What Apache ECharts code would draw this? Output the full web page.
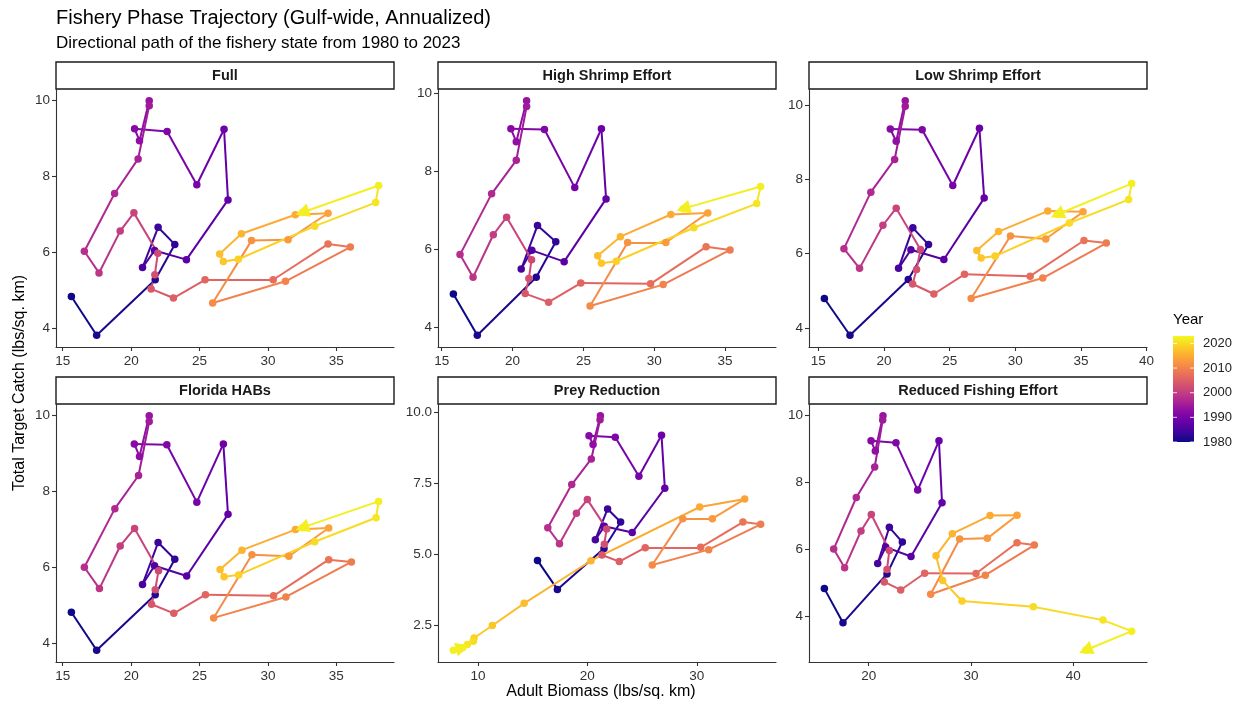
<!DOCTYPE html>
<html>
<head>
<meta charset="utf-8">
<script src="https://cdn.jsdelivr.net/npm/echarts@6/dist/echarts.min.js"></script>
<style>
  html, body { margin: 0; padding: 0; background: #fff; }
  #chart { width: 1242px; height: 707px; }
</style>
</head>
<body>
<div id="chart"></div>
<script>
// ---- data ----
const firstYear = 1980;
const lastYear = 2023;
const panelNames = ['Full', 'High Shrimp Effort', 'Low Shrimp Effort', 'Florida HABs', 'Prey Reduction', 'Reduced Fishing Effort'];

const fullX = [15.63,17.48,21.76,23.19,21.97,20.83,21.71,24.04,27.08,26.79,24.80,22.63,20.25,20.61,21.32,21.32,20.51,18.79,16.58,17.65,19.20,20.20,21.95,21.73,21.46,23.09,25.40,30.38,34.39,36.02,31.28,25.96,28.80,31.47,34.39,32.00,28.06,26.47,26.74,27.83,33.42,37.87,38.09,32.50];
const fullY = [4.83,3.81,5.27,6.20,6.65,5.59,6.04,5.80,7.37,9.23,7.77,9.17,9.24,8.93,9.98,9.85,8.45,7.54,6.02,5.45,6.55,7.03,5.97,5.40,5.03,4.79,5.27,5.27,6.21,6.13,5.23,4.66,6.30,6.32,7.02,6.98,6.48,5.95,5.75,5.81,6.68,7.30,7.75,7.04];

const highX = [15.82,17.51,21.67,23.05,21.76,20.61,21.36,23.64,26.60,26.27,24.39,22.25,19.88,20.26,20.99,20.99,20.26,18.52,16.29,17.21,18.64,19.58,21.34,21.15,20.89,22.54,24.81,29.74,33.66,35.35,30.63,25.47,28.12,30.82,33.78,31.17,27.61,26.01,26.27,27.32,32.79,37.23,37.51,32.05];
const highY = [4.86,3.80,5.29,6.20,6.62,5.50,5.98,5.69,7.30,9.10,7.59,9.08,9.10,8.77,9.82,9.67,8.29,7.43,5.87,5.29,6.38,6.83,5.74,5.26,4.87,4.65,5.14,5.12,6.07,5.99,5.10,4.55,6.18,6.18,6.94,6.90,6.33,5.84,5.65,5.70,6.56,7.18,7.62,7.05];

const lowX = [15.46,17.41,21.85,23.39,22.20,21.11,22.05,24.56,27.63,27.27,25.24,22.91,20.48,20.93,21.62,21.62,20.81,19.00,16.95,18.14,19.92,20.93,22.78,22.48,22.18,23.80,26.13,31.13,35.23,36.93,32.09,26.64,29.63,32.32,35.16,32.47,28.72,27.07,27.40,28.46,34.12,38.63,38.86,33.20];
const lowY = [4.79,3.80,5.30,6.24,6.69,5.60,6.10,5.84,7.49,9.37,7.83,9.33,9.35,9.02,10.11,9.96,8.53,7.65,6.13,5.60,6.76,7.22,6.11,5.57,5.18,4.91,5.44,5.39,6.35,6.28,5.34,4.79,6.47,6.39,7.12,7.14,6.59,6.08,5.88,5.93,6.82,7.45,7.88,7.05];

const floridaX = [15.63,17.48,21.76,23.19,21.97,20.83,21.71,24.06,27.08,26.74,24.80,22.61,20.23,20.61,21.32,21.32,20.54,18.81,16.58,17.68,19.20,20.25,22.00,21.76,21.49,23.12,25.43,30.41,34.44,36.10,31.31,26.03,28.83,31.53,34.44,32.01,28.10,26.50,26.79,27.86,33.42,37.90,38.09,32.50];
const floridaY = [4.82,3.82,5.28,6.21,6.65,5.55,6.04,5.77,7.39,9.24,7.71,9.22,9.24,8.91,9.98,9.83,8.41,7.54,6.00,5.44,6.56,7.02,5.91,5.41,5.03,4.79,5.28,5.25,6.20,6.14,5.22,4.67,6.33,6.29,7.03,6.99,6.45,5.94,5.75,5.80,6.67,7.30,7.73,7.04];

const preyX = [15.44,17.26,21.52,23.04,21.85,20.73,21.55,24.10,27.08,26.78,24.71,22.55,20.15,20.52,21.19,21.16,20.36,18.57,16.38,17.45,19.00,20.00,21.76,21.55,21.34,22.92,25.29,30.36,34.22,35.84,31.09,25.93,28.72,31.43,34.38,30.27,20.33,14.22,11.31,9.64,9.57,9.03,7.75,8.60];
const preyY = [4.79,3.77,5.21,6.14,6.60,5.52,5.99,5.77,7.33,9.19,7.75,9.12,9.18,8.87,9.88,9.74,8.36,7.46,5.94,5.38,6.45,6.93,5.90,5.36,4.98,4.75,5.24,5.25,6.14,6.06,5.17,4.63,6.26,6.26,6.95,6.67,4.78,3.28,2.50,2.06,1.95,1.83,1.63,1.72];

const reducedX = [15.67,17.49,21.79,23.29,22.02,20.88,21.66,24.14,27.17,26.87,24.79,22.67,20.23,20.65,21.40,21.37,20.59,18.79,16.58,17.65,19.25,20.26,22.02,21.79,21.53,23.13,25.47,30.49,34.50,36.19,31.40,26.06,28.89,31.60,34.50,31.86,28.18,26.58,27.23,29.12,36.09,42.90,45.70,41.20];
const reducedY = [4.82,3.80,5.26,6.21,6.65,5.57,6.06,5.78,7.38,9.23,7.76,9.17,9.23,8.93,9.98,9.85,8.45,7.54,6.00,5.44,6.54,7.03,5.96,5.39,5.02,4.78,5.28,5.27,6.19,6.12,5.22,4.65,6.30,6.32,7.01,7.00,6.46,5.80,5.06,4.45,4.28,3.88,3.55,2.98];

// tick labels per panel
const xTicks = [[15,20,25,30,35],[15,20,25,30,35],[15,20,25,30,35,40],[15,20,25,30,35],[10,20,30],[20,30,40]];
const yTicks = [[4,6,8,10],[4,6,8,10],[4,6,8,10],[4,6,8,10],[2.5,5,7.5,10],[4,6,8,10]];
const legendTicks = [1980, 1990, 2000, 2010, 2020];

// plasma colour map
const plasma = ['#0d0887','#41049d','#6a00a8','#8f0da4','#b12a90','#cc4778','#e16462','#f2844b','#fca636','#fcce25','#f0f921'];

function hexToRgb(h) {
  return [parseInt(h.slice(1,3),16), parseInt(h.slice(3,5),16), parseInt(h.slice(5,7),16)];
}
function plasmaColor(t) {
  t = Math.max(0, Math.min(1, t));
  const p = t * (plasma.length - 1);
  const i = Math.min(Math.floor(p), plasma.length - 2);
  const f = p - i;
  const a = hexToRgb(plasma[i]), b = hexToRgb(plasma[i+1]);
  const c = a.map((v, k) => Math.round(v + (b[k] - v) * f));
  return 'rgb(' + c.join(',') + ')';
}
function yearColor(yr) {
  return plasmaColor((yr - firstYear) / (lastYear - firstYear));
}

const years = [];
for (let y = firstYear; y <= lastYear; y++) years.push(y);

const panelX = [fullX, highX, lowX, floridaX, preyX, reducedX];
const panelY = [fullY, highY, lowY, floridaY, preyY, reducedY];

// layout
const FONT = '"Liberation Sans", Arial, sans-serif';
const colLeft = [56, 438, 809];
const panelW = 338;
const rowTop = [89, 404];
const panelH = 258;
const stripH = 27;
const axisColor = '#333333';

const grids = [], xAxes = [], yAxes = [], series = [], graphics = [];

function expand(arr) {
  const lo = Math.min(...arr), hi = Math.max(...arr);
  const pad = (hi - lo) * 0.05;
  return [lo - pad, hi + pad];
}

panelNames.forEach((name, i) => {
  const col = i % 3, row = Math.floor(i / 3);
  const xs = panelX[i], ys = panelY[i];
  const xr = expand(xs), yr = expand(ys);
  grids.push({ left: colLeft[col], top: rowTop[row], width: panelW, height: panelH });

  xAxes.push({
    gridIndex: i, type: 'value', min: xr[0], max: xr[1],
    axisLine: { show: true, onZero: false, lineStyle: { color: axisColor, width: 1.1 } },
    axisTick: { show: true, length: 4, customValues: xTicks[i], lineStyle: { color: axisColor, width: 1.1 } },
    axisLabel: { customValues: xTicks[i], color: axisColor, fontSize: 13.5, margin: 7, fontFamily: FONT },
    splitLine: { show: false }
  });
  yAxes.push({
    gridIndex: i, type: 'value', min: yr[0], max: yr[1],
    axisLine: { show: true, onZero: false, lineStyle: { color: axisColor, width: 1.1 } },
    axisTick: { show: true, length: 4, customValues: yTicks[i], lineStyle: { color: axisColor, width: 1.1 } },
    axisLabel: {
      customValues: yTicks[i], color: axisColor, fontSize: 13.5, margin: 6, fontFamily: FONT,
      formatter: v => (name === 'Prey Reduction' ? v.toFixed(1) : String(v))
    },
    splitLine: { show: false }
  });

  // path segments, coloured by the year they start from
  const segs = [];
  for (let k = 0; k < xs.length - 2; k++) {
    segs.push({ coords: [[xs[k], ys[k]], [xs[k+1], ys[k+1]]], lineStyle: { color: yearColor(years[k]) } });
  }
  const n = xs.length;
  series.push({
    type: 'lines', coordinateSystem: 'cartesian2d', xAxisIndex: i, yAxisIndex: i,
    silent: true, z: 2, symbol: ['none', 'none'],
    lineStyle: { width: 2, opacity: 1, curveness: 0 },
    data: segs
  });
  series.push({
    type: 'scatter', xAxisIndex: i, yAxisIndex: i, silent: true, z: 3,
    symbolSize: 7.5,
    data: xs.map((x, k) => ({ value: [x, ys[k], years[k]], itemStyle: { color: yearColor(years[k]), opacity: 1 } }))
  });
  // final segment with arrow head
  series.push({
    type: 'lines', coordinateSystem: 'cartesian2d', xAxisIndex: i, yAxisIndex: i,
    silent: true, z: 4, symbol: ['none', 'triangle'], symbolSize: 14,
    lineStyle: { width: 2, opacity: 1, curveness: 0 },
    data: [{ coords: [[xs[n-2], ys[n-2]], [xs[n-1], ys[n-1]]], lineStyle: { color: yearColor(years[n-2]) },
             itemStyle: { color: yearColor(years[n-1]) } }]
  });

  // facet strip
  graphics.push({
    type: 'rect', silent: true,
    shape: { x: colLeft[col], y: rowTop[row] - stripH, width: panelW, height: stripH },
    style: { fill: '#ffffff', stroke: '#1a1a1a', lineWidth: 1.4 }
  });
  graphics.push({
    type: 'text', silent: true,
    x: colLeft[col] + panelW / 2, y: rowTop[row] - stripH / 2,
    style: { text: name, font: 'bold 14.5px ' + FONT, fill: '#1a1a1a', align: 'center', verticalAlign: 'middle',
             textAlign: 'center', textVerticalAlign: 'middle' }
  });
});

// titles
graphics.push({
  type: 'text', silent: true, x: 56, y: 18,
  style: { text: 'Fishery Phase Trajectory (Gulf-wide, Annualized)', font: '20px ' + FONT, fill: '#000',
           align: 'left', verticalAlign: 'middle', textAlign: 'left', textVerticalAlign: 'middle' }
});
graphics.push({
  type: 'text', silent: true, x: 56, y: 43.5,
  style: { text: 'Directional path of the fishery state from 1980 to 2023', font: '17px ' + FONT, fill: '#000',
           align: 'left', verticalAlign: 'middle', textAlign: 'left', textVerticalAlign: 'middle' }
});
// axis titles
graphics.push({
  type: 'text', silent: true, x: 601, y: 692,
  style: { text: 'Adult Biomass (lbs/sq. km)', font: '16px ' + FONT, fill: '#000',
           align: 'center', verticalAlign: 'middle', textAlign: 'center', textVerticalAlign: 'middle' }
});
graphics.push({
  type: 'text', silent: true, x: 20, y: 383, rotation: Math.PI / 2,
  style: { text: 'Total Target Catch (lbs/sq. km)', font: '16px ' + FONT, fill: '#000',
           align: 'center', verticalAlign: 'middle', textAlign: 'center', textVerticalAlign: 'middle' }
});

// colour bar legend
const barX = 1173, barTop = 336, barW = 21, barH = 106;
const stops = plasma.map((c, k) => ({ offset: k / (plasma.length - 1), color: c }));
graphics.push({
  type: 'text', silent: true, x: barX, y: 320,
  style: { text: 'Year', font: '15px ' + FONT, fill: '#000', align: 'left', verticalAlign: 'middle',
           textAlign: 'left', textVerticalAlign: 'middle' }
});
graphics.push({
  type: 'rect', silent: true,
  shape: { x: barX, y: barTop, width: barW, height: barH },
  style: { fill: new echarts.graphic.LinearGradient(0, 1, 0, 0, stops) }
});
legendTicks.forEach(yr => {
  const yy = barTop + barH - (yr - firstYear) / (lastYear - firstYear) * barH;
  graphics.push({ type: 'line', silent: true, shape: { x1: barX, y1: yy, x2: barX + 4, y2: yy },
                  style: { stroke: 'rgba(255,255,255,0.8)', lineWidth: 1 } });
  graphics.push({ type: 'line', silent: true, shape: { x1: barX + barW - 4, y1: yy, x2: barX + barW, y2: yy },
                  style: { stroke: 'rgba(255,255,255,0.8)', lineWidth: 1 } });
  graphics.push({
    type: 'text', silent: true, x: barX + barW + 9, y: yy,
    style: { text: String(yr), font: '13px ' + FONT, fill: '#222', align: 'left', verticalAlign: 'middle',
             textAlign: 'left', textVerticalAlign: 'middle' }
  });
});

const chart = echarts.init(document.getElementById('chart'));
chart.setOption({
  backgroundColor: '#ffffff',
  animation: false,
  grid: grids,
  xAxis: xAxes,
  yAxis: yAxes,
  series: series,
  graphic: { elements: graphics }
});
</script>
</body>
</html>
